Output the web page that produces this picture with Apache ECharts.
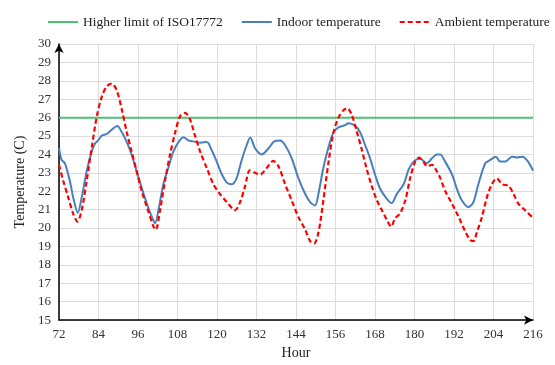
<!DOCTYPE html>
<html>
<head>
<meta charset="utf-8">
<script src="https://cdn.jsdelivr.net/npm/echarts@6/dist/echarts.min.js"></script>
<style>
  html, body { margin: 0; padding: 0; background: #fff; }
  #chart { width: 555px; height: 365px; }
</style>
</head>
<body>
<div id="chart"></div>
<script>
// x axis ticks (hours)
const hourTicks = [72, 84, 96, 108, 120, 132, 144, 156, 168, 180, 192, 204, 216];

// upper limit from ISO17772
const limitHours = [72, 216];
const limitTemp = [26, 26];

// indoor temperature
const indoorHours = [
  72, 72.8, 73.8, 75.3, 76.3, 77.7, 78.9, 80.4, 81.9, 82.9, 83.9, 85, 86.5, 88, 89.7,
  91.1, 92.6, 94.1, 95.6, 97.1, 98.7, 100.2, 101.2, 102.2, 103.7, 105.2, 106.7, 108.3,
  109.8, 111.3, 112.8, 114.9, 116.9, 118.4, 119.9, 121.5, 123, 124.5, 126, 127.5, 129,
  130.1, 131.6, 133.6, 135.6, 137.5, 139.2, 140.7, 142.7, 144.7, 146.8, 148.3, 149.8,
  150.8, 152.3, 153.9, 155.4, 156.9, 158.9, 159.9, 162, 163.5, 165, 166.5, 168, 169.6,
  171.6, 173.1, 174.6, 176.7, 178.2, 179.7, 181.7, 183.8, 185.3, 186.8, 187.8, 189.3,
  191.4, 192.9, 194.4, 196.4, 197.9, 199.4, 201.5, 203, 204.7, 206, 207.6, 209.6, 211.1,
  212.8, 214.5, 216
];
const indoorTemp = [
  24.35, 23.7, 23.52, 22.56, 21.67, 20.83, 21.67, 23.08, 24.14, 24.58, 24.76, 25.03, 25.11, 25.34, 25.55,
  25.2, 24.67, 23.97, 23.08, 22.2, 21.32, 20.61, 20.26, 20.97, 22.38, 23.26, 24.14, 24.67,
  24.94, 24.76, 24.71, 24.64, 24.67, 24.23, 23.61, 22.91, 22.47, 22.38, 22.73, 23.7, 24.5,
  24.92, 24.32, 24.0, 24.32, 24.72, 24.76, 24.5, 23.79, 22.73, 21.85, 21.41, 21.23,
  21.85, 23.26, 24.41, 25.2, 25.47, 25.59, 25.69, 25.55, 25.2, 24.5, 23.79, 22.91, 22.12,
  21.59, 21.36, 21.85, 22.38, 23.17, 23.61, 23.76, 23.52, 23.79, 24.0, 24.0, 23.61,
  22.91, 22.12, 21.5, 21.14, 21.41, 22.38, 23.52, 23.7, 23.88, 23.61, 23.61, 23.88, 23.83,
  23.88, 23.61, 23.12
];

// ambient temperature
const ambientHours = [
  72, 73.3, 74.8, 76.3, 77.6, 78.9, 80.4, 81.9, 83.5, 85, 86.5, 88, 89.5, 91.1, 92.6,
  94.1, 95.6, 97.1, 98.7, 100.7, 101.4, 102.7, 104.2, 105.7, 107.3, 108.8, 110.3, 111.8,
  113.3, 114.9, 116.9, 118.9, 120.9, 123, 125.5, 127, 128.5, 130, 131.6, 133.1, 135.1,
  137.1, 138.7, 140.7, 142.7, 144.7, 146.8, 148.3, 149.5, 150.8, 152.3, 153.9, 155.4,
  156.9, 158.4, 159.6, 160.9, 162.4, 163.9, 165.4, 167, 168.6, 170.1, 171.6, 172.9, 174.1,
  175.6, 177.2, 178.7, 180.2, 181.4, 182.7, 183.9, 185.3, 186.8, 187.8, 189.3, 191.4,
  193.4, 195.4, 196.9, 197.9, 198.9, 200.5, 202, 203.5, 205, 206.6, 208.6, 210.1, 211.6,
  213.6, 215.7
];
const ambientTemp = [
  23.44, 22.56, 21.67, 20.79, 20.35, 20.97, 22.56, 24.32, 26.08, 27.14, 27.7, 27.85, 27.5, 26.43, 25.2,
  24.14, 23.08, 22.03, 21.14, 20.08, 19.91, 20.97, 22.56, 23.97, 25.2, 26.08, 26.26, 25.9,
  25.03, 24.14, 23.26, 22.38, 21.85, 21.41, 20.97, 21.41, 22.25, 23.14, 23.0, 22.91, 23.26,
  23.65, 23.35, 22.38, 21.5, 20.61, 19.91, 19.29, 19.17, 19.74, 21.5, 23.61, 25.2,
  26.0, 26.4, 26.52, 26.17, 25.29, 24.32, 23.26, 22.29, 21.5, 20.97, 20.44, 20.08, 20.53,
  20.79, 21.5, 22.73, 23.61, 23.83, 23.61, 23.35, 23.44, 23.08, 22.73, 22.03, 21.32,
  20.61, 19.82, 19.35, 19.29, 19.74, 20.61, 21.67, 22.38, 22.7, 22.38, 22.29, 21.85, 21.32,
  20.97, 20.61
];

const pairs = (xs, ys) => xs.map((x, i) => [x, ys[i]]);

const font = 'Liberation Serif';
const chart = echarts.init(document.getElementById('chart'));

chart.setOption({
  animation: false,
  textStyle: { fontFamily: font },
  legend: {
    top: 10,
    left: 42,
    width: 513,
    itemWidth: 30,
    itemHeight: 14,
    itemGap: 18,
    itemStyle: { opacity: 0 },
    textStyle: { fontFamily: font, fontSize: 13.5, color: '#222' },
    data: ['Higher limit of ISO17772', 'Indoor temperature', 'Ambient temperature']
  },
  grid: { left: 59, right: 22, top: 44, bottom: 37 },
  xAxis: {
    type: 'value',
    min: 72,
    max: 216,
    interval: 12,
    name: 'Hour',
    nameLocation: 'middle',
    nameGap: 23,
    nameTextStyle: { fontFamily: font, fontSize: 14, color: '#222' },
    axisLine: { lineStyle: { color: '#000', width: 1.5 }, symbol: ['none', 'arrow'], symbolSize: [7, 9] },
    axisTick: { show: false },
    axisLabel: { fontFamily: font, fontSize: 13, color: '#333', margin: 8,
      customValues: hourTicks },
    splitLine: { show: true, lineStyle: { color: '#dcdcdc', width: 1 } }
  },
  yAxis: {
    type: 'value',
    min: 15,
    max: 30,
    interval: 1,
    name: 'Temperature (C)',
    nameLocation: 'middle',
    nameGap: 32,
    nameTextStyle: { fontFamily: font, fontSize: 14, color: '#222' },
    axisLine: { show: true, lineStyle: { color: '#000', width: 1.5 }, symbol: ['none', 'arrow'], symbolSize: [7, 9] },
    axisTick: { show: false },
    axisLabel: { fontFamily: font, fontSize: 13, color: '#333', margin: 8 },
    splitLine: { show: true, lineStyle: { color: '#dcdcdc', width: 1 } }
  },
  series: [
    {
      name: 'Higher limit of ISO17772',
      type: 'line',
      data: pairs(limitHours, limitTemp),
      symbol: 'none',
      lineStyle: { color: '#4cc171', width: 2 },
      itemStyle: { color: '#4cc171' }
    },
    {
      name: 'Indoor temperature',
      type: 'line',
      data: pairs(indoorHours, indoorTemp),
      symbol: 'none',
      smooth: 0.3,
      lineStyle: { color: '#4a7ebf', width: 2 },
      itemStyle: { color: '#4a7ebf' }
    },
    {
      name: 'Ambient temperature',
      type: 'line',
      data: pairs(ambientHours, ambientTemp),
      symbol: 'none',
      smooth: 0.3,
      lineStyle: { color: '#ff0000', width: 2.2, type: [5, 3] },
      itemStyle: { color: '#ff0000' }
    }
  ]
});
</script>
</body>
</html>
